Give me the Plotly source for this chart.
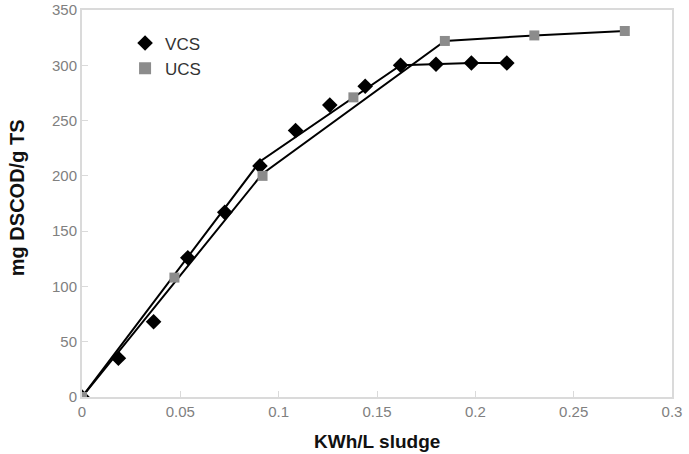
import plotly.graph_objects as go

# Measured points
vcs_x = [0.0, 0.0185, 0.0364, 0.0538, 0.0726, 0.0905, 0.1086, 0.126, 0.144, 0.162, 0.180, 0.198, 0.216]
vcs_y = [0, 35, 68, 126, 167, 209, 241, 264, 281, 300, 301, 302, 302]
ucs_x = [0.0, 0.047, 0.0918, 0.138, 0.1845, 0.230, 0.276]
ucs_y = [0, 108, 200, 271, 322, 327, 331]

# Fitted piecewise trend lines
vcs_fit_x = [0.0, 0.0905, 0.162, 0.180, 0.198, 0.216]
vcs_fit_y = [0, 213, 300, 301, 302, 302]
ucs_fit_x = [0.0, 0.0918, 0.1845, 0.230, 0.276]
ucs_fit_y = [0, 202, 322, 327, 331]

x_ticks = [0, 0.05, 0.1, 0.15, 0.2, 0.25, 0.3]
x_tick_labels = ["0", "0.05", "0.1", "0.15", "0.2", "0.25", "0.3"]
y_ticks = [0, 50, 100, 150, 200, 250, 300, 350]

fig = go.Figure()
fig.add_trace(go.Scatter(x=vcs_fit_x, y=vcs_fit_y, mode="lines",
                         line=dict(color="black", width=2), showlegend=False, hoverinfo="skip"))
fig.add_trace(go.Scatter(x=ucs_fit_x, y=ucs_fit_y, mode="lines",
                         line=dict(color="black", width=2), showlegend=False, hoverinfo="skip"))
fig.add_trace(go.Scatter(x=vcs_x, y=vcs_y, mode="markers", name="VCS",
                         marker=dict(symbol="diamond", size=12, color="black")))
fig.add_trace(go.Scatter(x=ucs_x, y=ucs_y, mode="markers", name="UCS",
                         marker=dict(symbol="square", size=10, color="#8c8c8c")))

font_fam = "Liberation Sans, Arial, sans-serif"
fig.update_layout(
    width=689, height=454,
    margin=dict(l=82, r=17, t=10, b=57, autoexpand=False),
    plot_bgcolor="white", paper_bgcolor="white",
    font=dict(family=font_fam, color="#666666"),
    legend=dict(x=0.073, y=0.96, xanchor="left", yanchor="top",
                bgcolor="rgba(0,0,0,0)",
                font=dict(size=17, color="#333333", family=font_fam),
                tracegroupgap=0, itemsizing="constant"),
    xaxis=dict(range=[0, 0.3], tickvals=x_ticks, ticktext=x_tick_labels,
               showgrid=False, zeroline=False, showline=True, mirror=True,
               linecolor="#dadada", linewidth=2, ticks="inside", ticklen=6,
               tickcolor="#dadada", tickfont=dict(size=15, color="#808080"),
               automargin=False),
    yaxis=dict(range=[0, 350], tickvals=y_ticks,
               showgrid=False, zeroline=False, showline=True, mirror=True,
               linecolor="#dadada", linewidth=2, ticks="inside", ticklen=6,
               tickcolor="#dadada", tickfont=dict(size=15, color="#808080"),
               automargin=False),
    annotations=[
        dict(text="<b>KWh/L sludge</b>", xref="paper", yref="paper", x=0.5, y=-0.147,
             xanchor="center", yanchor="bottom", showarrow=False,
             font=dict(size=19, color="#111111", family=font_fam)),
        dict(text="<b>mg DSCOD/g TS</b>", xref="paper", yref="paper", x=-0.11, y=0.514,
             xanchor="center", yanchor="middle", textangle=-90, showarrow=False,
             font=dict(size=20, color="#111111", family=font_fam)),
    ],
)

fig.write_html("out.html")
